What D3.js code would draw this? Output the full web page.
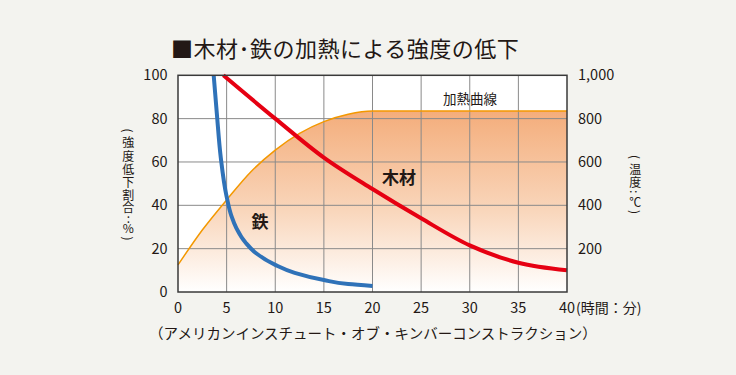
<!DOCTYPE html>
<html>
<head>
<meta charset="utf-8">
<script src="https://cdn.jsdelivr.net/npm/d3@7"></script>
<style>
  body { margin: 0; background: #f3f3ef; }
  svg { display: block; }
</style>
</head>
<body>
<svg id="chart" width="736" height="375"></svg>
<script>
// strength (%) of iron vs time (min)
let ironTime = [3.67, 4.0, 4.4, 5.0, 5.5, 6, 7, 8, 10, 12, 15, 17.5, 20];
let ironStrength = [100, 82, 62, 44, 35, 29.5, 22.5, 18, 12.5, 8.8, 5.5, 3.7, 2.8];

// strength (%) of wood vs time (min)
let woodTime = [4.66, 10, 15, 20, 25, 30, 35, 40];
let woodStrength = [100, 80, 62, 47.5, 34, 21.5, 13.5, 10];

// heating curve, temperature (C) vs time (min)
let heatTime = [0, 2.5, 5, 7.5, 10, 12.5, 15, 17.5, 20, 25, 30, 35, 40];
let heatTemp = [125, 286, 425, 555, 655, 732, 786, 820, 835, 835, 835, 835, 835];

let xTicks = [0, 5, 10, 15, 20, 25, 30, 35, 40];
let yTicks = [0, 20, 40, 60, 80, 100];
let tempTicks = [200, 400, 600, 800, 1000];

let svg = d3.select("#chart");
let font = "'Noto Sans CJK JP', sans-serif";
let textColor = "#231815";

let plotLeft = 178, plotRight = 567, plotTop = 75.3, plotBottom = 292;

let x = d3.scaleLinear().domain([0, 40]).range([plotLeft, plotRight]);
let y = d3.scaleLinear().domain([0, 100]).range([plotBottom, plotTop]);
let yTemp = d3.scaleLinear().domain([0, 1000]).range([plotBottom, plotTop]);

// plot background
svg.append("rect")
    .attr("x", plotLeft).attr("y", plotTop)
    .attr("width", plotRight - plotLeft).attr("height", plotBottom - plotTop)
    .attr("fill", "#ffffff");

// gradient for heating area
let grad = svg.append("defs").append("linearGradient")
    .attr("id", "heatGrad")
    .attr("gradientUnits", "userSpaceOnUse")
    .attr("x1", 0).attr("x2", 0)
    .attr("y1", yTemp(835)).attr("y2", plotBottom);
grad.append("stop").attr("offset", "0%").attr("stop-color", "#f4ad7b");
grad.append("stop").attr("offset", "55%").attr("stop-color", "#f9d6bb");
grad.append("stop").attr("offset", "100%").attr("stop-color", "#ffffff");

let heatData = heatTime.map((t, i) => ({t: t, v: heatTemp[i]}));

svg.append("path")
    .datum(heatData)
    .attr("d", d3.area()
        .x(d => x(d.t))
        .y0(plotBottom)
        .y1(d => yTemp(d.v))
        .curve(d3.curveMonotoneX))
    .attr("fill", "url(#heatGrad)");

// grid
svg.selectAll(".vgrid")
    .data(xTicks.slice(1, -1))
    .enter().append("line")
    .attr("x1", d => x(d)).attr("x2", d => x(d))
    .attr("y1", plotTop).attr("y2", plotBottom)
    .attr("stroke", "#8a8a8a")
    .attr("stroke-width", 1);
svg.selectAll(".hgrid")
    .data(yTicks.slice(1, -1))
    .enter().append("line")
    .attr("x1", plotLeft).attr("x2", plotRight)
    .attr("y1", d => y(d)).attr("y2", d => y(d))
    .attr("stroke", "#8a8a8a")
    .attr("stroke-width", 1);

// heating curve line
svg.append("path")
    .datum(heatData)
    .attr("d", d3.line()
        .x(d => x(d.t))
        .y(d => yTemp(d.v))
        .curve(d3.curveMonotoneX))
    .attr("fill", "none")
    .attr("stroke", "#f39800")
    .attr("stroke-width", 1.5);

// iron
let ironData = ironTime.map((t, i) => ({t: t, v: ironStrength[i]}));
svg.append("path")
    .datum(ironData)
    .attr("d", d3.line()
        .x(d => x(d.t))
        .y(d => y(d.v))
        .curve(d3.curveMonotoneY))
    .attr("fill", "none")
    .attr("stroke", "#2f72b8")
    .attr("stroke-width", 4);

// wood
let woodData = woodTime.map((t, i) => ({t: t, v: woodStrength[i]}));
svg.append("path")
    .datum(woodData)
    .attr("d", d3.line()
        .x(d => x(d.t))
        .y(d => y(d.v))
        .curve(d3.curveMonotoneX))
    .attr("fill", "none")
    .attr("stroke", "#e60012")
    .attr("stroke-width", 4);

// frame
svg.append("rect")
    .attr("x", plotLeft).attr("y", plotTop)
    .attr("width", plotRight - plotLeft).attr("height", plotBottom - plotTop)
    .attr("fill", "none")
    .attr("stroke", "#3a3a3a")
    .attr("stroke-width", 1.5);

// left axis labels
svg.selectAll(".ylab")
    .data(yTicks)
    .enter().append("text")
    .attr("x", 167.5)
    .attr("y", d => y(d) + 5)
    .text(d => d)
    .style("text-anchor", "end")
    .style("font-family", font)
    .style("font-size", "14.5px")
    .style("fill", textColor);

// right axis labels
svg.selectAll(".tlab")
    .data(tempTicks)
    .enter().append("text")
    .attr("x", 578)
    .attr("y", d => yTemp(d) + 5)
    .text(d => d3.format(",")(d))
    .style("font-family", font)
    .style("font-size", "14.5px")
    .style("fill", textColor);

// bottom axis labels
svg.selectAll(".xlab")
    .data(xTicks)
    .enter().append("text")
    .attr("x", d => x(d))
    .attr("y", 313)
    .text(d => d)
    .style("text-anchor", "middle")
    .style("font-family", font)
    .style("font-size", "14.5px")
    .style("fill", textColor);
svg.append("text")
    .attr("x", x(40) + 9)
    .attr("y", 313)
    .text("(時間：分)")
    .style("font-family", font)
    .style("font-size", "14px")
    .style("fill", textColor);

// vertical axis titles, one glyph at a time
function drawVerticalLabel(chars, cx, ys) {
    chars.forEach(function(c, i) {
        let rotate = (c === "(" || c === ")" || c === "‥");
        svg.append("text")
            .attr("x", cx)
            .attr("y", ys[i])
            .attr("transform", rotate ? "rotate(90," + cx + "," + ys[i] + ")" : null)
            .text(c === "‥" ? ":" : c)
            .style("text-anchor", "middle")
            .style("dominant-baseline", "central")
            .style("font-family", font)
            .style("font-size", "12px")
            .style("fill", textColor);
    });
}
drawVerticalLabel(["(", "強", "度", "低", "下", "割", "合", ":", "%", ")"], 128.3,
    [130.5, 141.7, 155, 168.3, 181, 194, 206.7, 217.3, 227, 238.5]);
drawVerticalLabel(["(", "温", "度", "‥", "℃", ")"], 635.3,
    [157, 168.3, 181, 191.7, 201, 212]);

// series labels
svg.append("text")
    .attr("x", 260).attr("y", 227.5)
    .text("鉄")
    .style("text-anchor", "middle")
    .style("font-family", font)
    .style("font-weight", "bold")
    .style("font-size", "17px")
    .style("fill", textColor);
svg.append("text")
    .attr("x", 399).attr("y", 184)
    .text("木材")
    .style("text-anchor", "middle")
    .style("font-family", font)
    .style("font-weight", "bold")
    .style("font-size", "17px")
    .style("fill", textColor);
svg.append("text")
    .attr("x", 470).attr("y", 104)
    .text("加熱曲線")
    .style("text-anchor", "middle")
    .style("font-family", font)
    .style("font-size", "13.5px")
    .style("fill", textColor);

// title
svg.append("text")
    .attr("x", 171)
    .attr("y", 57)
    .text("■木材･鉄の加熱による強度の低下")
    .style("font-family", font)
    .style("font-size", "22px")
    .style("letter-spacing", "0.5px")
    .style("fill", textColor);

// source note
svg.append("text")
    .attr("x", 373)
    .attr("y", 339)
    .text("（アメリカンインスチュート・オブ・キンバーコンストラクション）")
    .style("text-anchor", "middle")
    .style("font-family", font)
    .style("font-size", "14.5px")
    .style("fill", textColor);
</script>
</body>
</html>
